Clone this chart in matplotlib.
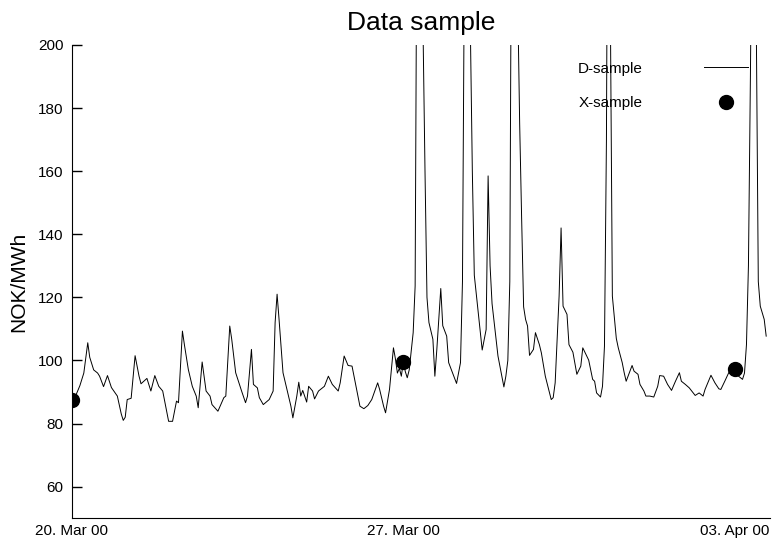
import numpy as np
import pandas as pd
import matplotlib
matplotlib.use("Agg")
import matplotlib.pyplot as plt
import matplotlib.dates as mdates

plt.rcParams['font.family'] = ['Liberation Sans', 'DejaVu Sans']

# hourly spot price, hours counted from 20 Mar 2000 00:00
START = pd.Timestamp("2000-03-20 00:00")
d_hours = [
    0, 2, 4, 6, 8, 9, 11, 13, 14, 16, 18, 20, 21, 23, 25, 26, 27, 28, 30, 32,
    34, 35, 38, 40, 42, 44, 46, 47, 49, 51, 53, 54, 56, 57, 59, 61, 63, 64, 66, 68,
    70, 71, 74, 77, 78, 80, 81, 83, 86, 88, 89, 91, 92, 94, 95, 97, 100, 102, 103, 104,
    105, 107, 109, 111, 112, 114, 115, 116, 117, 119, 120, 122, 123, 125, 128, 130, 132, 135, 136, 138,
    140, 142, 144, 146, 148, 150, 152, 155, 156, 158, 159, 161, 163, 164, 165, 166, 167, 168, 169, 170,
    171, 173, 174, 175, 176, 177, 178, 179, 180, 181, 183, 184, 185, 187, 188, 190, 191, 195, 197, 198,
    199, 200, 201, 202, 203, 204, 206, 208, 210, 211, 212, 213, 216, 219, 220, 221, 222, 223, 224, 225,
    226, 227, 228, 229, 230, 231, 232, 234, 235, 237, 238, 240, 243, 244, 245, 247, 248, 249, 251, 252,
    254, 256, 258, 259, 261, 262, 264, 265, 266, 268, 269, 270, 271, 272, 273, 274, 276, 277, 279, 280,
    281, 284, 285, 287, 288, 290, 291, 293, 295, 297, 298, 300, 302, 304, 306, 308, 309, 311, 313, 315,
    316, 318, 320, 321, 324, 326, 328, 329, 331, 333, 335, 337, 338, 339, 340, 341, 342, 343, 344, 345,
    346, 347, 348, 349, 351, 352,
]
d_price = [
    87.6, 89.0, 92.0, 96.0, 105.6, 101.0, 97.0, 96.0, 95.0, 91.7, 95.2, 91.4, 90.5, 88.7, 83.0, 81.0, 82.0, 87.6, 88.0, 101.5,
    95.0, 92.6, 94.3, 90.3, 95.2, 91.8, 90.3, 87.1, 80.7, 80.7, 87.1, 86.6, 109.3, 105.0, 97.1, 91.8, 88.7, 85.0, 99.5, 90.3,
    88.7, 86.0, 83.9, 88.2, 88.7, 110.9, 106.7, 96.1, 90.3, 86.6, 88.7, 103.5, 92.4, 91.3, 88.2, 86.0, 87.6, 90.3, 112.0, 121.0,
    113.0, 96.1, 90.8, 85.5, 81.8, 88.7, 93.1, 88.7, 90.5, 86.8, 91.8, 90.3, 87.8, 90.3, 91.8, 95.0, 92.4, 90.3, 92.9, 101.4,
    98.4, 98.2, 91.8, 85.5, 84.7, 85.7, 87.6, 92.9, 90.8, 85.5, 83.4, 90.8, 104.0, 100.5, 96.0, 97.5, 95.0, 99.5, 96.5, 94.5,
    97.0, 108.8, 123.6, 260.0, 310.0, 265.0, 205.0, 160.0, 120.0, 112.0, 106.7, 95.0, 103.5, 122.8, 111.0, 107.7, 99.3, 92.7, 99.3, 125.0,
    230.0, 280.0, 250.0, 205.0, 160.0, 127.0, 115.1, 103.3, 109.8, 158.5, 130.0, 118.0, 101.4, 91.6, 95.0, 100.0, 125.0, 270.0, 330.0, 290.0,
    215.0, 175.0, 145.0, 117.0, 113.0, 110.9, 101.6, 103.5, 108.8, 105.0, 102.4, 95.0, 87.6, 88.2, 92.9, 120.4, 142.0, 117.2, 114.6, 105.0,
    102.6, 95.6, 98.2, 104.0, 101.4, 100.1, 94.0, 93.4, 89.7, 88.4, 91.8, 104.5, 170.0, 320.0, 210.0, 120.4, 107.0, 104.0, 99.3, 96.1,
    93.4, 98.4, 96.6, 95.6, 92.4, 90.3, 88.7, 88.7, 88.4, 91.8, 95.2, 95.0, 92.4, 90.5, 93.4, 96.1, 93.4, 92.4, 91.3, 89.7,
    88.9, 89.7, 88.7, 90.8, 95.3, 92.9, 91.0, 90.8, 93.4, 96.1, 97.5, 96.0, 95.0, 94.5, 94.0, 96.0, 105.0, 130.0, 190.0, 260.0,
    240.0, 205.0, 125.0, 117.2, 113.0, 107.7,
]

# weekly samples
x_hours = [0, 168, 336]
x_price = [87.6, 99.5, 97.4]

tick_dates = ["2000-03-20", "2000-03-27", "2000-04-03"]

d_time = START + pd.to_timedelta(d_hours, unit="h")
x_time = START + pd.to_timedelta(x_hours, unit="h")

fig = plt.figure(figsize=(7.74, 5.42), dpi=100)
ax = fig.add_axes([0.093, 0.044, 0.902, 0.873])

ax.plot(d_time, d_price, color="black", lw=0.7, label="D-sample")
ax.plot(x_time, x_price, "o", color="black", ms=10, label="X-sample")

ax.set_ylim(50, 200)
ax.set_yticks(np.arange(60, 201, 20))
ax.set_xlim(START, START + pd.Timedelta(hours=354))
ax.set_xticks(pd.to_datetime(tick_dates))
ax.xaxis.set_major_formatter(mdates.DateFormatter("%d. %b %y"))

for s in ("top", "right"):
    ax.spines[s].set_visible(False)
ax.tick_params(axis="y", direction="in", length=7, width=1, labelsize=11, pad=6)
ax.tick_params(axis="x", length=0, labelsize=11, pad=4)

ax.set_ylabel("NOK/MWh", fontsize=15, labelpad=7)
ax.set_title("Data sample", fontsize=19, pad=11)

ax.legend(loc="upper left", bbox_to_anchor=(0.725, 0.965), frameon=False,
          markerfirst=False, handlelength=2.9, handletextpad=4,
          labelspacing=1.35, numpoints=1, fontsize=11,
          borderpad=0, borderaxespad=0)

fig.savefig("out.png", dpi=100)
